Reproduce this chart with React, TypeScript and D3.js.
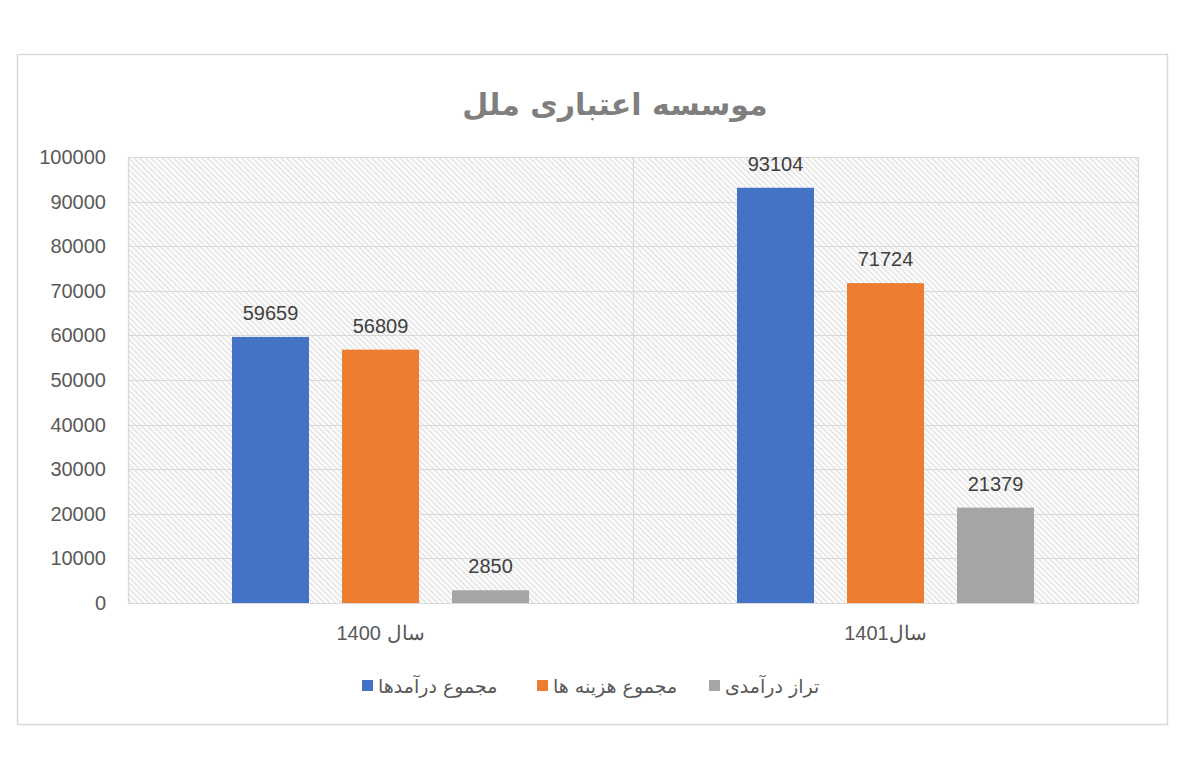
import { useEffect, useRef } from "react";
import * as d3 from "d3";

const TITLE = "موسسه اعتباری ملل";
const categories = ["سال 1400", "سال1401"];
const seriesNames = ["مجموع درآمدها", "مجموع هزینه ها", "تراز درآمدی"];
const seriesColors = ["#4472C4", "#ED7D31", "#A5A5A5"];
const values = [
  [59659, 56809, 2850], // 1400
  [93104, 71724, 21379], // 1401
];
const yTicks = [0, 10000, 20000, 30000, 40000, 50000, 60000, 70000, 80000, 90000, 100000];

const W = 1200;
const H = 760;
const PLOT = { left: 128, right: 1138, top: 157, bottom: 603 };
const NUM_FONT = "'Liberation Sans', Arial, sans-serif";
const AR_FONT = "'DejaVu Sans', sans-serif";

export default function App() {
  const svgRef = useRef<SVGSVGElement>(null);

  useEffect(() => {
    if (!svgRef.current) return;
    const svg = d3.select(svgRef.current);
    svg.selectAll("*").remove();

    // hatch pattern for plot background
    const defs = svg.append("defs");
    const pat = defs
      .append("pattern")
      .attr("id", "hatch")
      .attr("patternUnits", "userSpaceOnUse")
      .attr("width", 4)
      .attr("height", 4)
      .attr("patternTransform", "rotate(45)");
    pat.append("rect").attr("width", 4).attr("height", 4).attr("fill", "#fff");
    pat
      .append("line")
      .attr("x1", 0)
      .attr("x2", 4)
      .attr("y1", 1)
      .attr("y2", 1)
      .attr("stroke", "#dcdcdc")
      .attr("stroke-width", 1.3);

    svg.append("rect").attr("width", W).attr("height", H).attr("fill", "#fff");

    // outer chart border
    svg
      .append("rect")
      .attr("x", 17.5)
      .attr("y", 54.5)
      .attr("width", 1150)
      .attr("height", 670)
      .attr("fill", "#fff")
      .attr("stroke", "#d9d9d9")
      .attr("stroke-width", 1.5);

    const x = d3
      .scaleBand<string>()
      .domain(categories)
      .range([PLOT.left, PLOT.right])
      .padding(0);

    const xInner = d3
      .scaleBand<string>()
      .domain(seriesNames)
      .range([0, x.bandwidth()])
      .paddingInner(0.3)
      .paddingOuter(0.945);

    const y = d3.scaleLinear().domain([0, 100000]).range([PLOT.bottom, PLOT.top]);

    // plot background
    svg
      .append("rect")
      .attr("x", PLOT.left)
      .attr("y", PLOT.top)
      .attr("width", PLOT.right - PLOT.left)
      .attr("height", PLOT.bottom - PLOT.top)
      .attr("fill", "url(#hatch)");

    // horizontal grid
    svg
      .append("g")
      .selectAll("line")
      .data(yTicks)
      .join("line")
      .attr("x1", PLOT.left)
      .attr("x2", PLOT.right)
      .attr("y1", (d) => Math.round(y(d)) + 0.5)
      .attr("y2", (d) => Math.round(y(d)) + 0.5)
      .attr("stroke", "#d9d9d9")
      .attr("stroke-width", 1.2);

    // vertical grid at category boundaries
    const vx = [...categories.map((c) => x(c)!), PLOT.right];
    svg
      .append("g")
      .selectAll("line")
      .data(vx)
      .join("line")
      .attr("x1", (d) => Math.round(d) + 0.5)
      .attr("x2", (d) => Math.round(d) + 0.5)
      .attr("y1", PLOT.top)
      .attr("y2", PLOT.bottom)
      .attr("stroke", "#d9d9d9")
      .attr("stroke-width", 1.2);

    // y tick labels
    svg
      .append("g")
      .selectAll("text")
      .data(yTicks)
      .join("text")
      .attr("x", 106)
      .attr("y", (d) => y(d))
      .attr("dy", "0.35em")
      .attr("text-anchor", "end")
      .attr("font-family", NUM_FONT)
      .attr("font-size", 20)
      .attr("fill", "#595959")
      .text((d) => `${d}`);

    // bars + value labels
    categories.forEach((cat, ci) => {
      const g = svg.append("g").attr("transform", `translate(${x(cat)},0)`);
      seriesNames.forEach((s, si) => {
        const v = values[ci][si];
        g.append("rect")
          .attr("x", xInner(s)!)
          .attr("y", y(v))
          .attr("width", xInner.bandwidth())
          .attr("height", y(0) - y(v))
          .attr("fill", seriesColors[si]);
        g.append("text")
          .attr("x", xInner(s)! + xInner.bandwidth() / 2)
          .attr("y", y(v) - 17)
          .attr("text-anchor", "middle")
          .attr("font-family", NUM_FONT)
          .attr("font-size", 20)
          .attr("fill", "#404040")
          .text(`${v}`);
      });
    });

    // category labels
    svg
      .append("g")
      .selectAll("text")
      .data(categories)
      .join("text")
      .attr("x", (d) => x(d)! + x.bandwidth() / 2)
      .attr("y", 640)
      .attr("text-anchor", "middle")
      .attr("direction", "rtl")
      .attr("font-family", NUM_FONT)
      .attr("font-size", 20)
      .attr("fill", "#595959")
      .text((d) => d);

    // title
    svg
      .append("text")
      .attr("x", 615)
      .attr("y", 115)
      .attr("text-anchor", "middle")
      .attr("direction", "rtl")
      .attr("font-family", AR_FONT)
      .attr("font-weight", "bold")
      .attr("font-size", 30)
      .attr("fill", "#7f7f7f")
      .text(TITLE);

    // legend
    const legendX = [362, 537, 709];
    const legend = svg.append("g");
    seriesNames.forEach((s, i) => {
      legend
        .append("rect")
        .attr("x", legendX[i])
        .attr("y", 680)
        .attr("width", 11)
        .attr("height", 11)
        .attr("fill", seriesColors[i]);
      legend
        .append("text")
        .attr("x", legendX[i] + 16)
        .attr("y", 686)
        .attr("dy", "0.35em")
        .attr("text-anchor", "end")
        .attr("direction", "rtl")
        .attr("font-family", AR_FONT)
        .attr("font-size", 19)
        .attr("fill", "#595959")
        .text(s);
    });
  }, []);

  return (
    <svg
      ref={svgRef}
      width={W}
      height={H}
      style={{ position: "absolute", left: 0, top: 0, display: "block" }}
    />
  );
}
